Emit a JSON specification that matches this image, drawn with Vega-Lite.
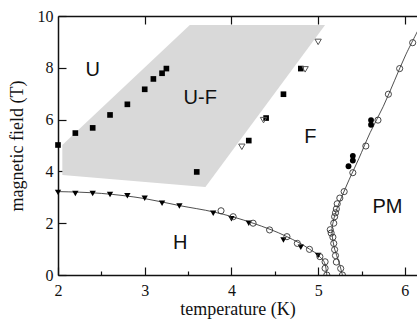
{
  "$schema": "https://vega.github.io/schema/vega-lite/v6.json",
  "width": 359,
  "height": 259,
  "autosize": "none",
  "padding": {"left": 58, "top": 16, "right": 0, "bottom": 46},
  "background": "white",
  "config": {
    "view": {"stroke": null},
    "axis": {
      "domainColor": "#111",
      "domainWidth": 1.5,
      "tickColor": "#111",
      "tickWidth": 1.2,
      "labelFont": "Liberation Serif",
      "labelFontSize": 16,
      "labelColor": "#111",
      "titleFont": "Liberation Serif",
      "titleFontSize": 18,
      "titleFontWeight": "normal",
      "titleColor": "#111",
      "grid": false
    }
  },
  "datasets": {
    "hatch": [
      {"t": 2.05, "top": 5.02, "bot": 3.86},
      {"t": 3.52, "top": 9.65, "bot": 3.45},
      {"t": 3.70, "top": 9.65, "bot": 3.40},
      {"t": 5.08, "top": 9.65, "bot": 9.65}
    ],
    "hline": [
      {"i": 1, "t": 2.0, "b": 3.22},
      {"i": 2, "t": 2.5, "b": 3.15},
      {"i": 3, "t": 3.0, "b": 2.95},
      {"i": 4, "t": 3.4, "b": 2.68},
      {"i": 5, "t": 3.8, "b": 2.43},
      {"i": 6, "t": 4.25, "b": 2.0},
      {"i": 7, "t": 4.64, "b": 1.48},
      {"i": 8, "t": 4.9, "b": 1.0},
      {"i": 9, "t": 5.02, "b": 0.7},
      {"i": 10, "t": 5.08, "b": 0.42},
      {"i": 11, "t": 5.1, "b": 0.0}
    ],
    "pmline": [
      {"i": 1, "t": 5.28, "b": 0.0},
      {"i": 2, "t": 5.24, "b": 0.5},
      {"i": 3, "t": 5.19, "b": 1.0},
      {"i": 4, "t": 5.16, "b": 1.6},
      {"i": 5, "t": 5.17, "b": 2.0},
      {"i": 6, "t": 5.21, "b": 2.5},
      {"i": 7, "t": 5.27, "b": 3.0},
      {"i": 8, "t": 5.36, "b": 3.7},
      {"i": 9, "t": 5.47, "b": 4.5},
      {"i": 10, "t": 5.6, "b": 5.5},
      {"i": 11, "t": 5.75, "b": 6.5},
      {"i": 12, "t": 5.88, "b": 7.5},
      {"i": 13, "t": 6.01, "b": 8.5},
      {"i": 14, "t": 6.16, "b": 9.5}
    ],
    "sqF": [
      {"t": 2.0, "b": 5.02}, {"t": 2.2, "b": 5.48}, {"t": 2.4, "b": 5.68},
      {"t": 2.6, "b": 6.18}, {"t": 2.8, "b": 6.59}, {"t": 3.0, "b": 7.17},
      {"t": 3.1, "b": 7.57}, {"t": 3.2, "b": 7.79}, {"t": 3.25, "b": 7.97},
      {"t": 4.8, "b": 7.97}, {"t": 4.6, "b": 6.98}, {"t": 4.4, "b": 6.06},
      {"t": 4.2, "b": 5.19}, {"t": 3.6, "b": 3.98}
    ],
    "triO": [
      {"t": 5.0, "b": 9.0}, {"t": 4.85, "b": 7.94}, {"t": 4.37, "b": 5.98}, {"t": 4.12, "b": 4.95}
    ],
    "triF": [
      {"t": 2.0, "b": 3.19}, {"t": 2.2, "b": 3.15}, {"t": 2.4, "b": 3.15},
      {"t": 2.6, "b": 3.11}, {"t": 2.8, "b": 3.06}, {"t": 3.0, "b": 2.96},
      {"t": 3.2, "b": 2.77}, {"t": 3.4, "b": 2.66}, {"t": 3.79, "b": 2.38},
      {"t": 4.0, "b": 2.17}, {"t": 4.2, "b": 2.0}, {"t": 4.6, "b": 1.35},
      {"t": 4.8, "b": 1.07}, {"t": 5.0, "b": 0.75}
    ],
    "circO": [
      {"t": 3.88, "b": 2.48}, {"t": 4.02, "b": 2.25}, {"t": 4.25, "b": 2.0},
      {"t": 4.44, "b": 1.74}, {"t": 4.64, "b": 1.48}, {"t": 4.76, "b": 1.22},
      {"t": 4.9, "b": 0.99}, {"t": 5.02, "b": 0.71}, {"t": 5.08, "b": 0.51},
      {"t": 5.08, "b": 0.26}, {"t": 5.1, "b": 0.0},
      {"t": 5.28, "b": 0.0}, {"t": 5.26, "b": 0.25}, {"t": 5.21, "b": 0.5},
      {"t": 5.2, "b": 0.75}, {"t": 5.19, "b": 0.98}, {"t": 5.18, "b": 1.22},
      {"t": 5.17, "b": 1.46}, {"t": 5.15, "b": 1.62}, {"t": 5.14, "b": 1.75},
      {"t": 5.18, "b": 2.0}, {"t": 5.19, "b": 2.25}, {"t": 5.2, "b": 2.4},
      {"t": 5.21, "b": 2.55}, {"t": 5.22, "b": 2.75}, {"t": 5.25, "b": 2.97},
      {"t": 5.3, "b": 3.22}, {"t": 5.4, "b": 3.95}, {"t": 5.55, "b": 4.98},
      {"t": 5.69, "b": 5.98}, {"t": 5.81, "b": 6.98}, {"t": 5.94, "b": 7.97},
      {"t": 6.09, "b": 8.97}
    ],
    "circF": [
      {"t": 5.35, "b": 4.2}, {"t": 5.4, "b": 4.42}, {"t": 5.4, "b": 4.6},
      {"t": 5.61, "b": 5.8}, {"t": 5.61, "b": 5.98}
    ],
    "labels": [
      {"t": 2.4, "b": 7.9, "txt": "U"},
      {"t": 3.64, "b": 6.85, "txt": "U-F"},
      {"t": 4.91, "b": 5.33, "txt": "F"},
      {"t": 3.41, "b": 1.24, "txt": "H"},
      {"t": 5.8, "b": 2.64, "txt": "PM"}
    ]
  },
  "layer": [
    {
      "data": {"name": "hatch"},
      "mark": {"type": "area", "color": "#d9d9d9", "opacity": 1},
      "encoding": {
        "x": {
          "field": "t", "type": "quantitative",
          "scale": {"domain": [2, 6.14], "nice": false, "zero": false},
          "axis": {
            "orient": "bottom",
            "title": "temperature (K)",
            "values": [2, 2.5, 3, 3.5, 4, 4.5, 5, 5.5, 6],
            "labelExpr": "datum.value % 1 ? '' : format(datum.value, 'd')",
            "tickSize": {"condition": {"test": "datum.value % 1 !== 0", "value": -4}, "value": -8},
            "labelPadding": 15,
            "titlePadding": -2,
            "labelFlush": false,
            "labelOverlap": false
          }
        },
        "y": {
          "field": "top", "type": "quantitative",
          "scale": {"domain": [0, 10], "nice": false},
          "axis": {
            "title": "magnetic field (T)",
            "values": [0, 2, 4, 6, 8, 10],
            "tickSize": -8,
            "labelPadding": 13,
            "titlePadding": 11,
            "labelFlush": false
          }
        },
        "y2": {"field": "bot"}
      }
    },
    {
      "data": {"name": "hline"},
      "mark": {"type": "line", "color": "#222", "strokeWidth": 0.8, "interpolate": "monotone", "clip": true},
      "encoding": {
        "x": {
          "field": "t", "type": "quantitative",
          "axis": {
            "orient": "top", "title": null, "labels": false,
            "values": [3, 4, 5, 6], "tickSize": -8
          }
        },
        "y": {"field": "b", "type": "quantitative"},
        "order": {"field": "i"}
      }
    },
    {
      "data": {"name": "pmline"},
      "mark": {"type": "line", "color": "#222", "strokeWidth": 0.8, "interpolate": "cardinal", "clip": true},
      "encoding": {
        "x": {"field": "t", "type": "quantitative", "axis": null},
        "y": {"field": "b", "type": "quantitative"},
        "order": {"field": "i"}
      }
    },
    {
      "data": {"name": "sqF"},
      "mark": {"type": "point", "shape": "square", "filled": true, "color": "#000", "size": 32, "opacity": 1},
      "encoding": {
        "x": {"field": "t", "type": "quantitative", "axis": null},
        "y": {"field": "b", "type": "quantitative"}
      }
    },
    {
      "data": {"name": "triO"},
      "mark": {"type": "point", "shape": "triangle-down", "filled": false, "stroke": "#555", "strokeWidth": 1, "size": 40, "opacity": 1},
      "encoding": {
        "x": {"field": "t", "type": "quantitative", "axis": null},
        "y": {"field": "b", "type": "quantitative"}
      }
    },
    {
      "data": {"name": "triF"},
      "mark": {"type": "point", "shape": "triangle-down", "filled": true, "color": "#000", "size": 40, "opacity": 1},
      "encoding": {
        "x": {"field": "t", "type": "quantitative", "axis": null},
        "y": {"field": "b", "type": "quantitative"}
      }
    },
    {
      "data": {"name": "circO"},
      "mark": {"type": "point", "shape": "circle", "filled": false, "stroke": "#333", "strokeWidth": 0.9, "size": 38, "opacity": 1, "clip": true},
      "encoding": {
        "x": {"field": "t", "type": "quantitative", "axis": null},
        "y": {"field": "b", "type": "quantitative"}
      }
    },
    {
      "data": {"name": "circF"},
      "mark": {"type": "point", "shape": "circle", "filled": true, "color": "#000", "size": 34, "opacity": 1},
      "encoding": {
        "x": {"field": "t", "type": "quantitative", "axis": null},
        "y": {"field": "b", "type": "quantitative"}
      }
    },
    {
      "data": {"name": "labels"},
      "mark": {"type": "text", "font": "Liberation Sans", "fontSize": 20, "color": "#111", "align": "center", "baseline": "middle"},
      "encoding": {
        "x": {"field": "t", "type": "quantitative", "axis": null},
        "y": {"field": "b", "type": "quantitative"},
        "text": {"field": "txt"}
      }
    }
  ],
  "resolve": {"axis": {"x": "independent"}}
}
